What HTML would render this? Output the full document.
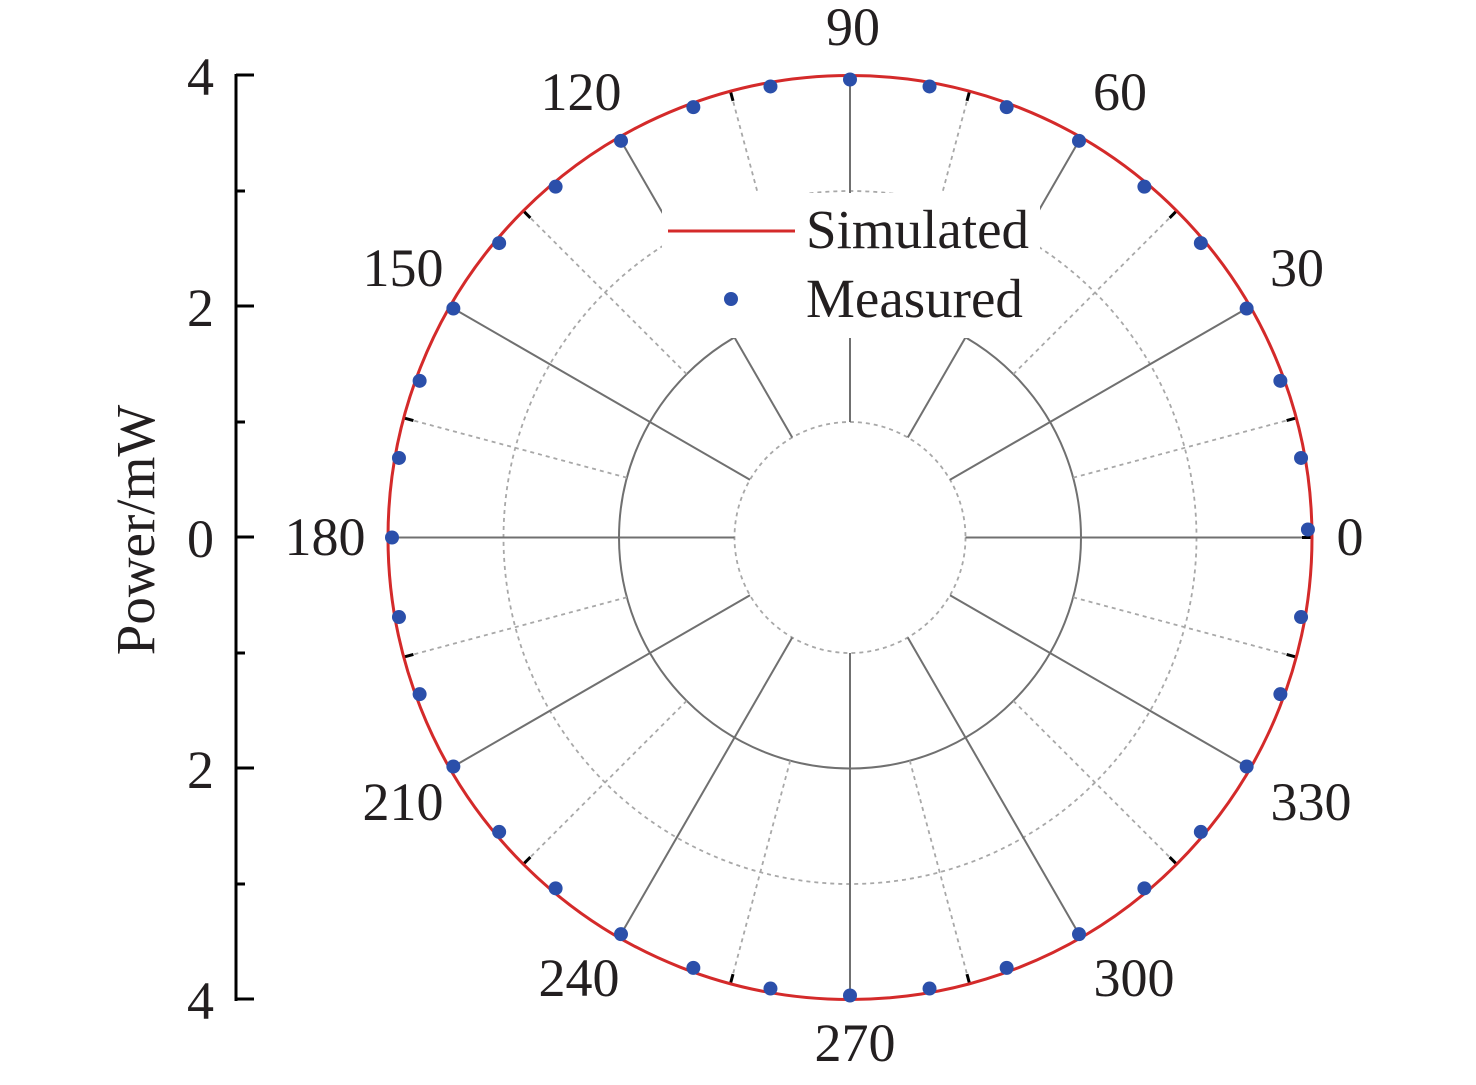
<!DOCTYPE html>
<html><head><meta charset="utf-8"><style>
html,body{margin:0;padding:0;background:#fff}
svg{display:block}
text{font-family:"Liberation Serif",serif;fill:#231f20}
</style></head><body>
<svg id="s" width="1476" height="1085" viewBox="0 0 1476 1085" xmlns="http://www.w3.org/2000/svg">
<g id="grid"></g>
<rect x="662" y="193" width="378" height="145" fill="#fff"/>
<g id="fg"></g>
<line x1="668" y1="231" x2="795" y2="231" stroke="#d42a2a" stroke-width="3"/>
<circle cx="731" cy="299" r="7" fill="#2b4faa"/>
<text x="806" y="248" font-size="55">Simulated</text>
<text x="806" y="317" font-size="55">Measured</text>
<!-- left axis -->
<line x1="236" y1="74" x2="236" y2="1001" stroke="#000" stroke-width="3"/>
<g stroke="#000" stroke-width="3">
<line x1="236" y1="75" x2="254" y2="75"/><line x1="236" y1="306" x2="254" y2="306"/><line x1="236" y1="537" x2="254" y2="537"/><line x1="236" y1="768" x2="254" y2="768"/><line x1="236" y1="999" x2="254" y2="999"/>
<line x1="236" y1="191" x2="245" y2="191"/><line x1="236" y1="422" x2="245" y2="422"/><line x1="236" y1="653" x2="245" y2="653"/><line x1="236" y1="884" x2="245" y2="884"/>
</g>
<g font-size="54" text-anchor="end">
<text x="214" y="95">4</text><text x="214" y="326">2</text><text x="214" y="557">0</text><text x="214" y="788">2</text><text x="214" y="1019">4</text>
</g>
<text transform="translate(154,530) rotate(-90)" font-size="55" text-anchor="middle">Power/mW</text>
<g font-size="54" text-anchor="middle">
<text x="1350" y="555">0</text>
<text x="1297" y="286">30</text>
<text x="1120" y="110">60</text>
<text x="853" y="45">90</text>
<text x="581" y="110">120</text>
<text x="403" y="286">150</text>
<text x="325" y="555">180</text>
<text x="403" y="820">210</text>
<text x="579" y="996">240</text>
<text x="855" y="1061">270</text>
<text x="1134" y="996">300</text>
<text x="1311" y="820">330</text>
</g>
</svg>
<script>
var cx=850,cy=537.5,R=462,u=R/4,NS="http://www.w3.org/2000/svg";
function el(p,t,a){var e=document.createElementNS(NS,t);for(var k in a)e.setAttribute(k,a[k]);document.getElementById(p).appendChild(e);return e}
var g="grid";
el(g,"circle",{cx:cx,cy:cy,r:u,fill:"none",stroke:"#a8a8a8","stroke-width":1.8,"stroke-dasharray":"4 4"});
el(g,"circle",{cx:cx,cy:cy,r:2*u,fill:"none",stroke:"#707070","stroke-width":2});
el(g,"circle",{cx:cx,cy:cy,r:3*u,fill:"none",stroke:"#a8a8a8","stroke-width":1.8,"stroke-dasharray":"4 4"});
for(var a=0;a<360;a+=15){var r=a*Math.PI/180,c=Math.cos(r),s=-Math.sin(r);
 if(a%30==0) el(g,"line",{x1:cx+u*c,y1:cy+u*s,x2:cx+R*c,y2:cy+R*s,stroke:"#707070","stroke-width":2});
 else el(g,"line",{x1:cx+2*u*c,y1:cy+2*u*s,x2:cx+R*c,y2:cy+R*s,stroke:"#a8a8a8","stroke-width":1.8,"stroke-dasharray":"4 4"});
 el("fg","line",{x1:cx+(R-10)*c,y1:cy+(R-10)*s,x2:cx+R*c,y2:cy+R*s,stroke:"#000","stroke-width":3});
}
el("fg","circle",{cx:cx,cy:cy,r:R,fill:"none",stroke:"#d42a2a","stroke-width":3});
for(var a=0;a<360;a+=10){var r=(a==0?1:a)*Math.PI/180;
 el("fg","circle",{cx:cx+458*Math.cos(r),cy:cy-458*Math.sin(r),r:7,fill:"#2b4faa"});}
</script>
</body></html>
